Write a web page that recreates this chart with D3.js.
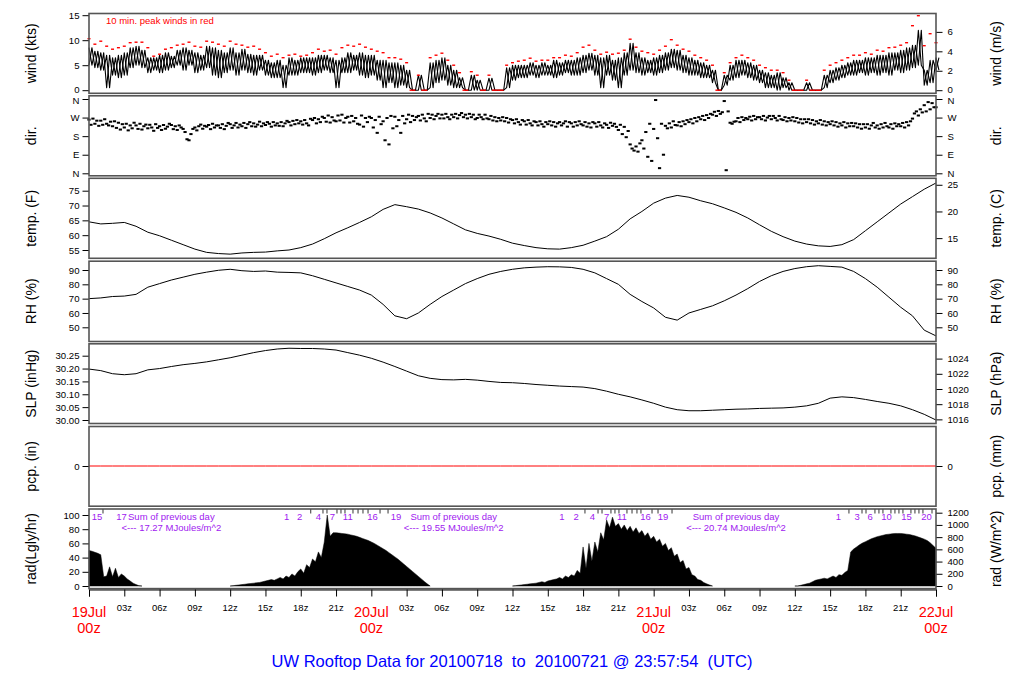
<!DOCTYPE html>
<html><head><meta charset="utf-8">
<script src="https://cdn.jsdelivr.net/npm/d3@7"></script>
<style>
body{margin:0;background:#fff}
svg{display:block}
text{font-family:"Liberation Sans",Arial,Helvetica,sans-serif}
</style>
</head><body>
<svg id="c" width="1024" height="700"></svg>
<script>
// ---------------- DATA ----------------
// wind (kts), 30-minute bins from 19Jul 00z (h = 0, 0.5, ... 72)
const windLo = [5,4.5,4,0.5,3,2.5,3,4.5,5,4.5,3.5,4,3.5,4,4.5,5,4,5,3.5,4,
 4.5,3,2.5,3.5,4,3,4,3.5,3,4,3,2.5,2.5,0.5,3,3,3.5,3.5,3,3.5,
 4,3.5,0.5,3.5,3.5,4,3,2.5,3,2,0.5,1.5,0.5,1,0.5,0,0,0,0.5,1.5,
 2,1,0.5,0.5,0,0,0,0,0,0,0,0.5,2,2.5,2.5,3,2.5,3,3,2.5,
 3,3.5,3,3,3.5,4,3,0.5,3,2,0.5,3,4,3.5,3,3.5,3,3.5,4,4.5,
 4,3.5,3,3,2.5,2.5,1.5,0,1,2,2.5,3,2.5,2,1.5,0.5,0.5,0,0.5,0,
 0,0,0,0,0,0.5,1.5,2,2.5,3,3,3.5,3,3.5,3,3.5,3,4,3.5,4,
 4.5,5,1,1.5,4];
const windHi = [8.5,7.8,7.5,7,6.5,7,7.5,8.5,8.8,8,6.5,6.5,7,7.5,6.8,8,8.5,8,7.5,7,
 8.8,8.5,8,7.5,8.5,7.5,8.2,7.2,7,7,6,5.5,6,5,6.5,6,6.5,6.5,6.5,7,
 7,6.5,6,6.5,7.5,7,7.5,7,7,6,6,5.5,5.5,5,4,0,3,0,5.5,6,
 6.5,5,4,2.5,0,3,2,0,2.4,0,0,4.5,5,5,5,5.5,5,5.5,5,6,
 5.5,6,6,6.5,7,7.4,7,6.5,7,6,6.5,7.5,9.4,7.5,6.5,6,6.5,7,7.5,8.2,
 8,7,6.5,6,5.5,5,4,0,3,5,6,6,5.5,5,4,3.5,3,3.5,2.5,1.5,
 0,0,1.5,0,0,3,4,4.5,5,5.5,6,6,6.5,6.5,7,7,7.5,7.5,8,8.5,
 9,12,4,6,6.5];
const windPeak = [10.3,9.2,9.8,8.8,8.2,8.5,8.8,9.5,9.6,9.6,8.5,6.8,7.2,8.2,8.5,9,9.2,9.6,8.8,8.6,
 9.8,9.6,9.2,8.8,9.8,9.2,9,8.6,8.8,8.2,7.5,6.8,7.2,6.5,7,7.2,6.8,7,7.5,8.2,
 7.8,8,7.2,8.5,9,8.8,9.2,8.6,8.2,7.8,7.5,6.5,6.5,6.2,5.5,0,3,0,6.5,7,
 7.4,6,5,3.5,0,3.7,3,0,3,0,0,5,5.5,5.8,6,6.4,5.8,6,6,6.5,
 6.5,7,6.8,7.5,8.6,9,8,7.2,7.6,7.2,7.4,8,10.2,8.6,7.8,7.5,7.2,8,8.8,10.1,
 9,8.2,7.8,7,6.5,6,5,0,3.5,5.5,6.5,7,6.5,6,5,4.5,4,4,3.5,2,
 0,0,2,0,0,4,5,5.5,6,6.5,7,7,7.5,7.2,8,7.8,8.5,8.6,9,9.5,
 12.9,14.9,8.9,11.3,9.5];

// wind direction (deg), 10-minute samples
const dir = [
 260,235,265,240,255,230, 255,235,262,240,232,250, 228,252,220,245,212,238, 222,240,208,232,218,245,
 232,215,240,212,228,236, 218,235,222,206,238,220, 228,210,234,216,226,240, 234,214,228,210,232,222,
 215,200,165,160,190,215, 222,208,228,236,216,230, 226,234,214,240,222,232, 232,220,238,214,230,244,
 238,220,232,244,222,236, 228,244,220,238,248,228, 242,226,236,250,228,242, 234,248,240,226,248,232,
 242,230,248,228,242,254, 248,232,254,238,258,242, 252,236,258,242,232,264, 258,268,242,262,248,274,
 268,250,280,246,272,256, 252,280,256,284,246,268, 274,246,278,252,268,240, 236,280,226,268,248,274,
 268,222,258,196,274,238, 252,160,268,140,278,218, 274,228,258,196,278,242, 262,284,248,278,258,272,
 278,256,284,266,252,288, 268,284,262,278,288,266, 284,266,288,272,262,284, 272,288,266,282,292,272,
 284,266,288,272,284,262, 268,284,272,262,284,266, 262,278,256,272,252,268, 256,272,252,268,246,262,
 258,242,262,248,236,258, 252,236,258,242,232,252, 248,232,252,238,226,248, 238,252,232,248,226,242,
 248,232,242,252,226,248, 242,226,248,232,252,238, 232,248,226,242,222,248, 242,226,248,232,222,242,
 235,220,245,230,240,225, 210,235,190,225,175,205, 140,120,110,130,105,145, 160,120,200,80,240,60,
 215,355,170,25,240,90, 230,218,242,222,252,234, 232,248,228,252,238,258, 248,262,242,268,252,272,
 262,278,258,282,268,288, 284,298,278,302,288,296, 350,15,300,245,240,250, 252,268,248,272,258,268,
 262,274,256,278,262,272, 272,262,278,256,270,278, 262,278,268,256,278,262, 258,272,252,268,256,272,
 252,268,246,262,242,262, 248,262,242,258,236,252, 242,258,236,252,232,248, 238,252,232,248,226,242,
 232,248,222,242,228,244, 228,242,222,238,216,238, 222,238,216,232,244,222, 232,216,238,222,244,228,
 222,238,216,242,228,238, 228,244,222,248,232,252, 265,290,300,280,310,295, 330,300,345,310,340,320,
 320];

// hourly series
const tempF = [64.5,63.8,64.0,64.3,63.0,61.0,59.8,58.3,56.8,55.3,
 54.2,53.8,53.6,54.0,54.2,54.3,54.7,55.0,55.8,57.0,
 58.8,60.8,62.5,64.3,66.2,68.7,70.3,69.6,68.8,67.5,
 65.8,63.8,61.8,60.6,59.7,58.6,57.3,56.5,55.8,55.4,
 55.3,55.8,56.6,58.0,59.5,62.0,65.5,68.0,70.8,72.5,
 73.4,72.8,71.6,70.6,69.2,67.7,65.8,63.5,61.3,59.5,
 58.0,57.0,56.4,56.2,56.8,58.5,61.5,64.5,67.5,70.5,
 73.0,75.5,77.6];
const rh = [70,70.5,71.5,71.8,73,78,80.5,83,85,87,
 88.5,89.8,90.5,89.5,89.0,89.3,88.5,88.3,88.0,86,
 83.5,81,78.5,76,72.5,66,58,56,60,66,
 71.5,76,80.5,84,87,89,90.5,91.5,92,92.3,
 92.2,91.8,90.5,88,84,80,73,68,63.5,57,
 55,60,62.5,65,68.5,72.5,77,82,86,89,
 91,92.3,93,92.5,92,89,84,78,71,64,
 58,48,44];
const slp = [30.198,30.192,30.180,30.176,30.180,30.195,30.200,30.208,30.215,30.220,
 30.226,30.234,30.242,30.252,30.262,30.270,30.276,30.279,30.278,30.278,
 30.276,30.272,30.262,30.252,30.240,30.225,30.208,30.190,30.172,30.162,
 30.157,30.156,30.158,30.155,30.150,30.146,30.145,30.142,30.138,30.135,
 30.132,30.130,30.128,30.122,30.112,30.100,30.090,30.078,30.065,30.050,
 30.040,30.036,30.036,30.038,30.040,30.042,30.043,30.045,30.046,30.047,
 30.050,30.055,30.065,30.085,30.090,30.087,30.080,30.072,30.065,30.055,
 30.040,30.022,30.000];
const pcp = [0,0,0,0,0,0,0,0,0,0,0,0,0,0,0,0,0,0,0,0,0,0,0,0,0,0,0,0,0,0,0,0,0,0,0,0,
 0,0,0,0,0,0,0,0,0,0,0,0,0,0,0,0,0,0,0,0,0,0,0,0,0,0,0,0,0,0,0,0,0,0,0,0,0];

// solar radiation (Langley/hr), 15-minute samples per daylight segment
const radStart = [0, 12, 36, 60];
const radSeg0 = [50,49,47.5,46,44,13,14,27,13,25,12,17,14,10,7,4,2,0.5,0];
const radSeg1 = [0,0.5,1,1.5,2,2.5,3,3.5,4,4.5,5,6,7,8,9,8,10,12,10,14,12,17,14,20,24,18,30,26,38,34,48,40,62,100,70,75,
 75,74.5,74,73.5,73,72,71,70,68.5,67,65.5,64,62,60,57.5,55,52.5,50,47,44,41,38,34.5,31,27.5,24,20.5,17,13.5,10,6.5,3,0];
const radSeg2 = [0,0.5,1,1.5,2,2.5,3,3.5,4,5,6,5,7,8,9,10,12,10,14,12,16,14,22,18,55,25,60,35,62,48,75,65,93,82,97,84,
 88,80,86,78,84,76,82,74,78,70,75,66,70,62,66,56,60,50,54,42,45,33,36,24,26,16,14,9,8,5,3,1.5,0];
const radSeg3 = [0,0,1,2,3,4,6,8,9,10,11,10,12,14,12,16,15,19,22,48,52,55,58,60.5,62.5,64.5,66.5,68,69.5,70.5,71.5,72.5,73,73.5,74,74,74,73.5,73,72.5,
 71.5,70.5,69,67.5,66,64,61,57,53];
const radSegs = [radSeg0, radSeg1, radSeg2, radSeg3];

// cumulative MJ/m^2 marks on top of radiation panel
const radLabelHours = [0.68,2.77,16.8,17.9,19.5,20.7,22.0,24.1,26.1,40.2,41.4,42.8,44.0,45.3,47.3,48.8,63.7,65.3,66.4,67.8,69.5,71.2];
const radLabelText  = ["15","17","1","2","4","7","11","16","19","1","2","4","7","11","16","19","1","3","6","10","15","20"];
const radTickHours = [1.19,18.85,19.89,20.23,21.08,21.42,21.76,22.44,22.87,23.29,23.72,24.74,25.42,
 42.16,43.27,43.61,44.37,44.71,45.05,45.73,46.16,46.58,46.92,47.86,48.37,49.56,
 64.6,65.71,66.05,66.81,67.15,67.49,68.17,68.51,68.85,69.19,69.87,70.21,70.55,70.89,71.66];
const sumHours = [7, 31, 55];
const sumTotals = ["17.27","19.55","20.74"];

// axis tick labels
const windTicks = [0,5,10,15];
const windMsTicks = [0,2,4,6];
const dirTicks = [0,90,180,270,360];
const dirNames = ["N","E","S","W","N"];
const tempFTicks = [55,60,65,70,75];
const tempCTicks = [15,20,25];
const rhTicks = [50,60,70,80,90];
const slpTicks = [30.00,30.05,30.10,30.15,30.20,30.25];
const hpaTicks = [1016,1018,1020,1022,1024];
const radTicks = [0,20,40,60,80,100];
const radWTicks = [0,200,400,600,800,1000,1200];
const dayLabels = ["19Jul","20Jul","21Jul","22Jul"];
const title = "UW Rooftop Data for 20100718  to  20100721 @ 23:57:54  (UTC)";

// ---------------- LAYOUT ----------------
const svg = d3.select("#c");
const X0 = 89, X1 = 936;
const x = d3.scaleLinear().domain([0,72]).range([X0,X1]);
const FONT = '"Liberation Sans",Arial,Helvetica,sans-serif';

const panels = [
 {top:13.5, bot:93.3, l:"wind (kts)", r:"wind (m/s)"},
 {top:95.8, bot:175.8, l:"dir.", r:"dir."},
 {top:178.3, bot:258.3, l:"temp. (F)", r:"temp. (C)"},
 {top:261.2, bot:341.5, l:"RH (%)", r:"RH (%)"},
 {top:343.8, bot:423.5, l:"SLP (inHg)", r:"SLP (hPa)"},
 {top:426.5, bot:506.2, l:"pcp. (in)", r:"pcp. (mm)"},
 {top:509, bot:588.6, l:"rad(Lgly/hr)", r:"rad (W/m^2)"}
];

const yWind = d3.scaleLinear().domain([0,15]).range([90.2,15.2]);
const yWindMs = d3.scaleLinear().domain([0,15*0.514444]).range([90.2,15.2]);
const yDir = d3.scaleLinear().domain([0,360]).range([173.3,99]);
const yTF = d3.scaleLinear().domain([55,75]).range([250,190.7]);
const yTC = d3.scaleLinear().domain([(55-32)/1.8,(75-32)/1.8]).range([250,190.7]);
const yRH = d3.scaleLinear().domain([50,90]).range([327.3,270]);
const ySLP = d3.scaleLinear().domain([30,30.25]).range([420,355.7]);
const yHPA = d3.scaleLinear().domain([30*33.8639,30.25*33.8639]).range([420,355.7]);
const yPcp = d3.scaleLinear().domain([-1,1]).range([505.5,426.5]);
const yPcpMm = d3.scaleLinear().domain([-25.4,25.4]).range([505.5,426.5]);
const yRad = d3.scaleLinear().domain([0,100]).range([586,515]);
const yRadW = d3.scaleLinear().domain([0,1162.2]).range([586,515]);

// ---------------- DATA MARKS ----------------
// wind: two interleaved traces through the high/low reading of each bin
const windLine = d3.line().x(d=>x(d[0])).y(d=>yWind(d[1]));
const traceA = [], traceB = [];
windLo.forEach((lo,i)=>{
 traceA.push([i*0.5, windHi[i]]); traceA.push([i*0.5+0.25, lo]);
 traceB.push([i*0.5, lo]); traceB.push([i*0.5+0.25, windHi[i]]);
});
[traceA, traceB].forEach(t=>{
 svg.append("path").datum(t).attr("d", windLine)
  .attr("fill","none").attr("stroke","#000").attr("stroke-width",1.1).attr("stroke-linejoin","round");
});
svg.append("g").selectAll("rect").data(windPeak).join("rect")
 .attr("x",(d,i)=> d===0 ? x(i*0.5-0.25) : x(i*0.5)-1.5)
 .attr("width",(d,i)=> d===0 ? x(0.5)-x(0) : 3)
 .attr("y",d=>yWind(d)-0.7).attr("height",1.4).attr("fill","#ff0000");

// direction dashes
svg.append("g").selectAll("rect").data(dir).join("rect")
 .attr("x",(d,i)=>x(i/6)-1.6).attr("width",3.2)
 .attr("y",d=>yDir(d)-1).attr("height",2).attr("fill","#000");

const hourLine = (ys)=> d3.line().x((d,i)=>x(i)).y(d=>ys(d));
svg.append("path").datum(tempF).attr("d",hourLine(yTF)).attr("fill","none").attr("stroke","#000").attr("stroke-width",1);
svg.append("path").datum(rh).attr("d",hourLine(yRH)).attr("fill","none").attr("stroke","#000").attr("stroke-width",1);
svg.append("path").datum(slp).attr("d",hourLine(ySLP)).attr("fill","none").attr("stroke","#000").attr("stroke-width",1);
svg.append("path").datum(pcp).attr("d",hourLine(yPcp)).attr("fill","none").attr("stroke","#ff0000").attr("stroke-width",1);

// radiation areas
radSegs.forEach((seg,k)=>{
 const area = d3.area().x((d,i)=>x(radStart[k]+i*0.25)).y0(yRad(0)).y1(d=>yRad(d));
 svg.append("path").datum(seg).attr("d",area).attr("fill","#000").attr("stroke","#000").attr("stroke-width",0.5);
});

// ---------------- FRAMES & AXES ----------------
panels.forEach(p=>{
 svg.append("rect").attr("x",X0).attr("y",p.top).attr("width",X1-X0).attr("height",p.bot-p.top)
  .attr("fill","none").attr("stroke","#555").attr("stroke-width",1.6);
 const my = (p.top+p.bot)/2;
 svg.append("text").attr("transform",`translate(31,${my}) rotate(-90)`).attr("text-anchor","middle")
  .attr("dominant-baseline","central").attr("font-size",14).text(p.l);
 svg.append("text").attr("transform",`translate(996,${my}) rotate(-90)`).attr("text-anchor","middle")
  .attr("dominant-baseline","central").attr("font-size",14).text(p.r);
});

function styleAxis(g){
 g.select(".domain").remove();
 g.attr("font-family",FONT).attr("font-size",9.6);
 g.selectAll("line").attr("stroke","#000");
 g.selectAll("text").attr("fill","#000");
}
function leftAxis(scale, vals, fmt, nudge){
 const g = svg.append("g").attr("transform",`translate(${X0-0.5},0)`)
  .call(d3.axisLeft(scale).tickValues(vals).tickFormat(fmt).tickSize(6).tickPadding(3)).call(styleAxis);
 if(nudge) g.selectAll("text").attr("dy",(d,i)=> (nudge[i]||0)+0.32+"em");
}
function rightAxis(scale, vals, fmt, nudge){
 const g = svg.append("g").attr("transform",`translate(${X1+0.5},0)`)
  .call(d3.axisRight(scale).tickValues(vals).tickFormat(fmt).tickSize(6).tickPadding(5)).call(styleAxis);
 if(nudge) g.selectAll("text").attr("dy",(d,i)=> (nudge[i]||0)+0.32+"em");
}
// small nudges keep the wind "0" and the top "N" apart
leftAxis(yWind, windTicks, d3.format("d"), [-0.1,0,0,0]);
rightAxis(yWindMs, windMsTicks, d3.format("d"), [-0.1,0,0,0]);
leftAxis(yDir, dirTicks, (d,i)=>dirNames[i], [0,0,0,0,0.1]);
rightAxis(yDir, dirTicks, (d,i)=>dirNames[i], [0,0,0,0,0.1]);
leftAxis(yTF, tempFTicks, d3.format("d"));
rightAxis(yTC, tempCTicks, d3.format("d"));
leftAxis(yRH, rhTicks, d3.format("d"));
rightAxis(yRH, rhTicks, d3.format("d"));
leftAxis(ySLP, slpTicks, d3.format(".2f"));
rightAxis(yHPA, hpaTicks, d3.format("d"));
leftAxis(yPcp, [0], d3.format("d"));
rightAxis(yPcpMm, [0], d3.format("d"));
leftAxis(yRad, radTicks, d3.format("d"));
rightAxis(yRadW, radWTicks, d3.format("d"));

// bottom time axis
const tickHours = d3.range(0, 73, 3);
const xa = svg.append("g").attr("transform","translate(0,589.5)")
 .call(d3.axisBottom(x).tickValues(tickHours).tickSize(7).tickFormat(""));
xa.select(".domain").attr("stroke","#000");
xa.selectAll("line").attr("stroke","#000");
svg.append("g").selectAll("text").data(tickHours.filter(h=>h%24!==0)).join("text")
 .attr("x",d=>x(d)).attr("y",607.5).attr("text-anchor","middle").attr("dominant-baseline","central")
 .attr("font-size",9.5).text(d=>String(d%24).padStart(2,"0")+"z");
svg.append("g").selectAll("text").data(dayLabels).join("text")
 .attr("x",(d,i)=>x(i*24)).attr("y",611.5).attr("text-anchor","middle").attr("dominant-baseline","central")
 .attr("font-size",14.5).attr("fill","#ff0000").text(d=>d);
svg.append("g").selectAll("text").data(dayLabels).join("text")
 .attr("x",(d,i)=>x(i*24)).attr("y",627.5).attr("text-anchor","middle").attr("dominant-baseline","central")
 .attr("font-size",14.5).attr("fill","#ff0000").text("00z");

// radiation top marks
svg.append("g").selectAll("line").data(radTickHours).join("line")
 .attr("x1",d=>x(d)).attr("x2",d=>x(d)).attr("y1",509.5).attr("y2",513.5).attr("stroke","#000").attr("stroke-width",0.8);
svg.append("g").selectAll("text").data(radLabelText).join("text")
 .attr("x",(d,i)=>x(radLabelHours[i])).attr("y",516).attr("text-anchor","middle").attr("dominant-baseline","central")
 .attr("font-size",9.5).attr("fill","#a020f0").text(d=>d);
svg.append("g").selectAll("text").data(sumHours).join("text")
 .attr("x",d=>x(d)).attr("y",516).attr("text-anchor","middle").attr("dominant-baseline","central")
 .attr("font-size",9.5).attr("fill","#a020f0").text("Sum of previous day");
svg.append("g").selectAll("text").data(sumHours).join("text")
 .attr("x",d=>x(d)).attr("y",527).attr("text-anchor","middle").attr("dominant-baseline","central")
 .attr("font-size",9.5).attr("fill","#a020f0").text((d,i)=>"<--- "+sumTotals[i]+" MJoules/m^2");

// annotation + title
svg.append("text").attr("x",106).attr("y",20).attr("dominant-baseline","central")
 .attr("font-size",9.5).attr("fill","#ff0000").text("10 min. peak winds in red");
svg.append("text").attr("x",512).attr("y",661).attr("text-anchor","middle").attr("dominant-baseline","central")
 .attr("font-size",16.5).attr("fill","#0000ff").style("white-space","pre").text(title);
</script>
</body></html>
